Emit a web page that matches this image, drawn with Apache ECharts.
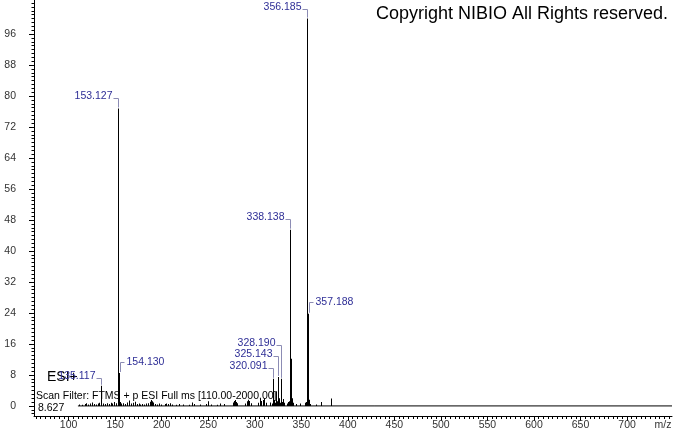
<!DOCTYPE html>
<html><head><meta charset="utf-8">
<script src="https://cdn.jsdelivr.net/npm/echarts@6/dist/echarts.min.js"></script>
<style>html,body{margin:0;padding:0;background:#fff}#c{width:674px;height:434px}</style>
</head><body><div id="c"></div>
<script>
// ---- data ----
const xTickLabels = [100,150,200,250,300,350,400,450,500,550,600,650,700];
const yTickLabels = [0,8,16,24,32,40,48,56,64,72,80,88,96];
const scanStart = 110.0;
const peakMz = [111.1,114.1,117.1,119.1,121.1,123.1,125.1,127.1,129.1,131.1,133.1,137.1,139.1,141.1,143.1,145.1,147.1,149.1,151.1,155.1,156.1,158.1,160.1,163.1,165.1,167.1,169.1,171.1,173.1,175.1,177.1,179.1,181.1,183.1,185.1,187.1,188.1,189.1,191.1,193.1,195.1,197.1,199.1,203.1,205.1,207.1,209.1,211.1,215.1,219.1,223.1,229.1,233.1,235.1,241.1,247.1,250.1,253.1,259.1,263.1,267.1,277.1,278.1,279.1,280.1,281.1,289.1,292.1,293.1,294.1,296.1,303.1,305.1,306.1,307.1,309.1,310.1,312.1,316.1,318.1,319.1,321.1,322.1,323.1,324.1,326.1,327.1,329.1,330.1,331.1,334.1,336.1,337.1,339.141,340.1,341.1,344.1,349.1,354.1,355.1,358.19,359.1,366.1,371.1,382.1];
const peakIntensity = [0.4,0.3,0.5,0.7,0.4,0.6,0.9,0.5,0.4,0.6,0.8,0.6,0.5,0.7,0.5,0.8,0.6,1.0,0.7,1.0,0.6,0.7,0.5,0.9,1.4,0.6,0.8,1.1,0.5,0.6,0.4,0.5,0.4,0.6,0.7,1.1,1.5,1.2,0.9,0.5,0.4,0.6,0.4,0.5,0.6,0.5,0.7,0.4,0.3,0.5,0.4,0.3,0.9,0.5,0.4,0.5,1.2,0.4,0.3,0.6,0.5,0.9,1.3,1.5,1.0,0.7,0.6,1.2,1.6,1.3,0.7,0.8,1.4,1.8,1.3,1.5,2.0,0.8,0.9,0.6,1.2,1.5,0.8,3.8,1.2,2.0,0.8,1.0,1.8,0.8,0.6,1.0,1.2,12.2,2.0,0.8,0.5,0.6,0.8,1.0,1.6,0.5,0.4,1.0,1.9];
const labelledMz = [135.117,153.127,154.130,320.091,325.143,328.190,338.138,356.185,357.188];
const labelledIntensity = [5.2,76.8,8.5,7.0,7.5,7.0,45.5,100,23.8];
const labelText = ['135.117','153.127','154.130','320.091','325.143','328.190','338.138','356.185','357.188'];

// ---- label styling (side and vertical offset in px) ----
const labelStyle = {
  '135.117':{side:'left',dy:-10}, '153.127':{side:'left',dy:-12}, '154.130':{side:'right',dy:-11},
  '320.091':{side:'left',dy:-13}, '325.143':{side:'left',dy:-23}, '328.190':{side:'left',dy:-36},
  '338.138':{side:'left',dy:-13}, '356.185':{side:'left',dy:-12}, '357.188':{side:'right',dy:-12}
};

const FONT = '"Liberation Sans", Arial, sans-serif';
const XMIN = 62.8, XMAX = 748.3, YMIN = -2.6, YMAX = 104.8;

const allMz = peakMz.concat(labelledMz);
const allInt = peakIntensity.concat(labelledIntensity);
const peakData = allMz.map((m,i)=>[m, allInt[i]]);
const labelData = labelledMz.map((m,i)=>[m, labelledIntensity[i]]);

const xMinor = []; for (let v=65; v<=745; v+=5) xMinor.push(v);
const yMinor = []; for (let v=-2; v<=104; v+=1) yMinor.push(v);

const chart = echarts.init(document.getElementById('c'), null, {renderer:'canvas'});
chart.setOption({
  animation:false,
  backgroundColor:'#fff',
  grid:{left:34, top:0, right:2, bottom:18, containLabel:false},
  xAxis:[
    {type:'value', min:XMIN, max:XMAX, position:'bottom',
     axisLine:{show:true, onZero:false, lineStyle:{color:'#000', width:1}},
     axisTick:{show:true, customValues:xTickLabels, length:5, lineStyle:{color:'#000'}},
     axisLabel:{show:true, customValues:xTickLabels, margin:4, color:'#333', fontSize:10.5, fontFamily:FONT},
     splitLine:{show:false}},
    {type:'value', min:XMIN, max:XMAX, position:'bottom',
     axisLine:{show:false, onZero:false},
     axisTick:{show:true, customValues:xMinor, length:3, lineStyle:{color:'#000'}},
     axisLabel:{show:false}, splitLine:{show:false}}
  ],
  yAxis:[
    {type:'value', min:YMIN, max:YMAX, position:'left',
     axisLine:{show:true, onZero:false, lineStyle:{color:'#000', width:1}},
     axisTick:{show:true, customValues:yTickLabels, length:5, lineStyle:{color:'#000'}},
     axisLabel:{show:true, customValues:yTickLabels, margin:18, color:'#333', fontSize:10.5, fontFamily:FONT},
     splitLine:{show:false}},
    {type:'value', min:YMIN, max:YMAX, position:'left',
     axisLine:{show:false, onZero:false},
     axisTick:{show:true, customValues:yMinor, length:2.5, lineStyle:{color:'#000'}},
     axisLabel:{show:false}, splitLine:{show:false}}
  ],
  series:[
    {type:'line', xAxisIndex:0, yAxisIndex:0, data:[[scanStart,0],[XMAX,0]], symbol:'none',
     lineStyle:{color:'#000', width:1}, silent:true},
    {type:'custom', xAxisIndex:0, yAxisIndex:0, data:peakData, encode:{x:0,y:1}, silent:true,
     renderItem:function(params, api){
       const top = api.coord([api.value(0), api.value(1)]);
       const base = api.coord([api.value(0), 0]);
       return {type:'rect', shape:{x:Math.round(top[0]), y:top[1], width:1, height:base[1]-top[1]},
               style:{fill:'#000'}};
     }},
    {type:'custom', xAxisIndex:0, yAxisIndex:0, data:labelData, encode:{x:0,y:1}, silent:true, z:5,
     renderItem:function(params, api){
       const i = params.dataIndex;
       const txt = labelText[i];
       const st = labelStyle[txt];
       const p = api.coord([api.value(0), api.value(1)]);
       const px = Math.round(p[0]) + 0.5, py = p[1];
       const cy = Math.round(py + st.dy) + 0.5;
       let pts, tx, align;
       if (st.side === 'left') {
         pts = [[px-5, cy+2],[px, cy+2],[px, py-1]];
         tx = px - 6; align = 'right';
       } else {
         pts = [[px+1, py-1],[px+1, cy],[px+5, cy]];
         tx = px + 7; align = 'left';
       }
       return {type:'group', children:[
         {type:'polyline', shape:{points:pts}, style:{stroke:'#8c8cb4', lineWidth:1, fill:null}},
         {type:'text', x:tx, y:cy, style:{text:txt, align:align, verticalAlign:'middle',
           fill:'#2e2e96', fontSize:10.5, fontFamily:FONT}}
       ]};
     }}
  ],
  graphic:[
    {type:'text', x:376, y:14, style:{text:'Copyright NIBIO All Rights reserved.', fill:'#000', fontSize:18, fontFamily:FONT, verticalAlign:'middle'}},
    {type:'text', x:47, y:377, style:{text:'ESI+', fill:'#000', fontSize:14, fontFamily:FONT, verticalAlign:'middle'}},
    {type:'text', x:36, y:396, style:{text:'Scan Filter: FTMS + p ESI Full ms [110.00-2000.00]', fill:'#000', fontSize:10.5, fontFamily:FONT, verticalAlign:'middle'}},
    {type:'text', x:38, y:408, style:{text:'8.627', fill:'#000', fontSize:10.5, fontFamily:FONT, verticalAlign:'middle'}},
    {type:'text', x:663, y:425, style:{text:'m/z', fill:'#333', fontSize:10.5, fontFamily:FONT, align:'center', verticalAlign:'middle'}}
  ]
});
</script></body></html>
